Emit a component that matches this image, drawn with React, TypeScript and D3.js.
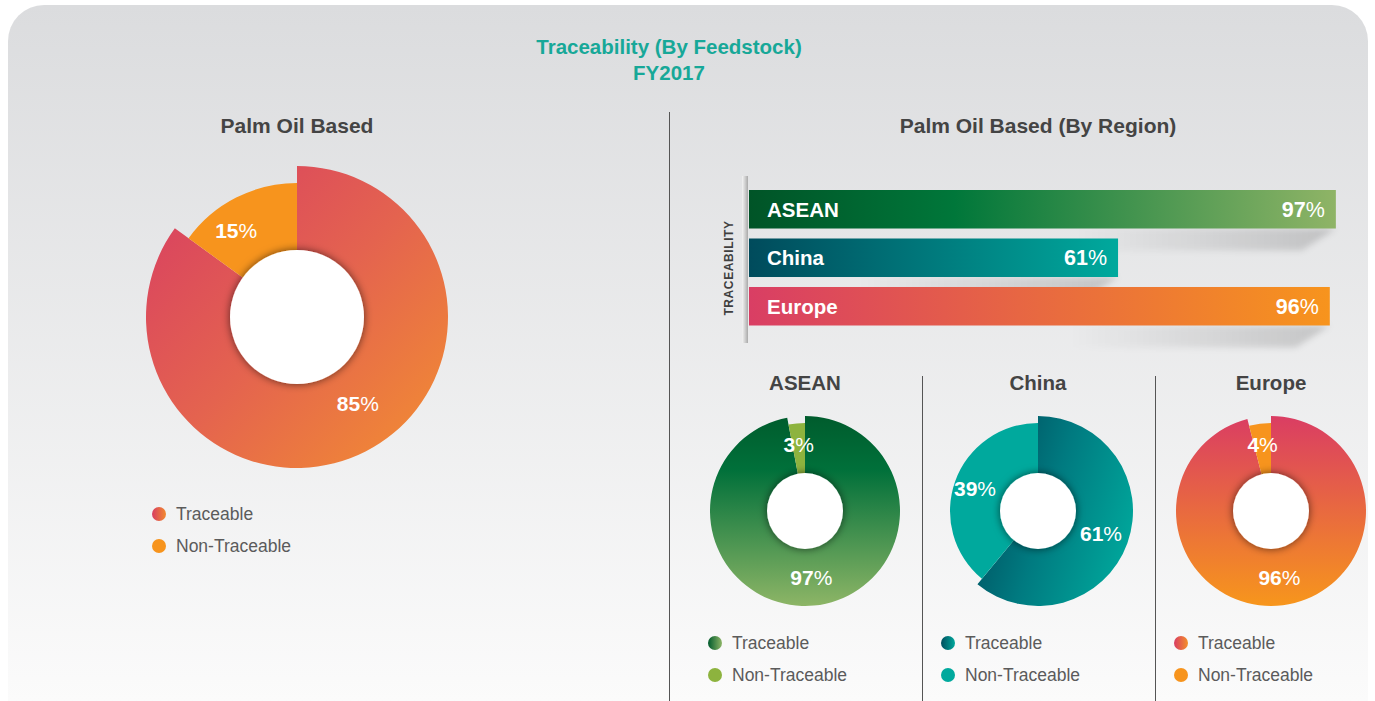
import React from "react";
import * as d3 from "d3";

const legendLabels = ["Traceable", "Non-Traceable"];
const mainValues = [85, 15];
const regions = ["ASEAN", "China", "Europe"];
const regionTraceable = [97, 61, 96];
const regionNonTraceable = [3, 39, 4];

const W = 1375;
const H = 701;
const FONT = "'Liberation Sans', Arial, Helvetica, sans-serif";

type Theme = {
  id: string;
  stops: [number, string][];
  dir: [number, number, number, number];
  non: string;
  legendStops: [number, string][];
};

const mainTheme: Theme = {
  id: "main",
  stops: [[0, "#d73c63"], [0.5, "#e4634f"], [1, "#f39030"]],
  dir: [0, 0, 1, 1],
  non: "#f7941d",
  legendStops: [[0, "#d83d62"], [1, "#f28a2e"]],
};

const regionThemes: Theme[] = [
  {
    id: "asean",
    stops: [[0, "#005c2d"], [0.28, "#00703a"], [1, "#8db566"]],
    dir: [0, 0, 0, 1],
    non: "#8db33e",
    legendStops: [[0, "#005a2c"], [1, "#8db566"]],
  },
  {
    id: "china",
    stops: [[0, "#004e5e"], [0.45, "#007a80"], [1, "#00a89c"]],
    dir: [0, 0.3, 1, 0.7],
    non: "#00a99d",
    legendStops: [[0, "#004e5e"], [1, "#00a89c"]],
  },
  {
    id: "europe",
    stops: [[0, "#da3d63"], [1, "#f7961c"]],
    dir: [0, 0, 0, 1],
    non: "#f7941d",
    legendStops: [[0, "#d93d63"], [1, "#f4902a"]],
  },
];

const barStops: [number, string][][] = [
  [[0, "#005427"], [0.35, "#00773a"], [1, "#8fb466"]],
  [[0, "#004b5c"], [1, "#00a99d"]],
  [[0, "#d93e64"], [1, "#f7941d"]],
];

function Grad({ id, stops, dir }: { id: string; stops: [number, string][]; dir: [number, number, number, number] }) {
  return (
    <linearGradient id={id} x1={dir[0]} y1={dir[1]} x2={dir[2]} y2={dir[3]}>
      {stops.map(([o, c], i) => (
        <stop key={i} offset={o} stopColor={c} />
      ))}
    </linearGradient>
  );
}

function Pct({ x, y, v, size, anchor = "middle" }: { x: number; y: number; v: number; size: number; anchor?: string }) {
  return (
    <text x={x} y={y} textAnchor={anchor as any} fill="#fff" fontFamily={FONT} fontSize={size} dy="0.35em">
      <tspan fontWeight="bold">{v}</tspan>
      <tspan fontWeight="normal">%</tspan>
    </text>
  );
}

function Donut({
  cx, cy, values, rOuter, rNon, rInner, theme, labelR, labelShift = 0,
}: {
  cx: number; cy: number; values: number[]; rOuter: number; rNon: number; rInner: number; theme: Theme; labelR: number; labelShift?: number;
}) {
  const pie = d3.pie<number>().sort(null).value((d) => d);
  const arcs = pie(values);
  const arcGen = d3.arc<d3.PieArcDatum<number>>();
  return (
    <g transform={`translate(${cx},${cy})`}>
      {arcs.map((a, i) => (
        <path
          key={i}
          d={arcGen({ ...a, innerRadius: rInner - 2, outerRadius: i === 0 ? rOuter : rNon } as any) || ""}
          fill={i === 0 ? `url(#g-${theme.id})` : theme.non}
        />
      ))}
      <circle r={rInner} fill="#fff" filter="url(#holeShadow)" />
      {arcs.map((a, i) => {
        const mid = (a.startAngle + a.endAngle) / 2 + labelShift;
        const lx = labelR * Math.sin(mid);
        const ly = -labelR * Math.cos(mid);
        return <Pct key={i} x={lx} y={ly} v={values[i]} size={21} />;
      })}
    </g>
  );
}

function Legend({ x, y, theme }: { x: number; y: number; theme: Theme }) {
  return (
    <g>
      {legendLabels.map((l, i) => (
        <g key={l} transform={`translate(${x},${y + i * 32})`}>
          <circle r={7} fill={i === 0 ? `url(#lg-${theme.id})` : theme.non} />
          <text x={17} dy="0.36em" fontFamily={FONT} fontSize={17.5} fill="#5b5b5b">
            {l}
          </text>
        </g>
      ))}
    </g>
  );
}

export default function App() {
  const x = d3.scaleLinear().domain([0, 100]).range([749, 1354]);
  const y = d3.scaleBand<string>().domain(regions).range([190, 325.5]).paddingInner(0.206).paddingOuter(0);
  const regionCx = d3.scalePoint<string>().domain(regions).range([805, 1271]);
  const allThemes = [mainTheme, ...regionThemes];

  return (
    <svg width={W} height={H} style={{ position: "absolute", left: 0, top: 0, display: "block" }}>
      <defs>
        <linearGradient id="bg" x1={0} y1={5} x2={0} y2={701} gradientUnits="userSpaceOnUse">
          <stop offset={0} stopColor="#dbdcde" />
          <stop offset={1} stopColor="#fbfbfb" />
        </linearGradient>
        {allThemes.map((t) => (
          <Grad key={t.id} id={`g-${t.id}`} stops={t.stops} dir={t.dir} />
        ))}
        {allThemes.map((t) => (
          <Grad key={"l" + t.id} id={`lg-${t.id}`} stops={t.legendStops} dir={[0, 0, 1, 0]} />
        ))}
        {barStops.map((s, i) => (
          <Grad key={"b" + i} id={`bar-${i}`} stops={s} dir={[0, 0, 1, 0]} />
        ))}
        <linearGradient id="shadowGrad" x1={0} y1={0} x2={1} y2={0}>
          <stop offset={0} stopColor="#000" stopOpacity={0} />
          <stop offset={1} stopColor="#000" stopOpacity={0.16} />
        </linearGradient>
        <filter id="holeShadow" x="-30%" y="-30%" width="160%" height="160%">
          <feDropShadow dx={0} dy={0} stdDeviation={4} floodColor="#000" floodOpacity={0.6} />
        </filter>
        <filter id="blur3" x="-20%" y="-50%" width="140%" height="200%">
          <feGaussianBlur stdDeviation={3} />
        </filter>
        <linearGradient id="axisGrad" x1={0} y1={0} x2={1} y2={0}>
          <stop offset={0} stopColor="#f4f4f4" />
          <stop offset={0.6} stopColor="#c9c9c9" />
          <stop offset={1} stopColor="#a9a9a9" />
        </linearGradient>
      </defs>

      <rect x={0} y={0} width={W} height={H} fill="#fff" />
      <rect x={8} y={5} width={1360} height={760} rx={36} fill="url(#bg)" />

      <text x={669} y={47} textAnchor="middle" dy="0.35em" fontFamily={FONT} fontWeight="bold" fontSize={20.5} fill="#17a898">
        Traceability (By Feedstock)
      </text>
      <text x={669} y={73} textAnchor="middle" dy="0.35em" fontFamily={FONT} fontWeight="bold" fontSize={20.5} fill="#17a898">
        FY2017
      </text>

      <line x1={669.5} x2={669.5} y1={112} y2={H} stroke="#555" strokeWidth={1} />

      <text x={297} y={126} textAnchor="middle" dy="0.35em" fontFamily={FONT} fontWeight="bold" fontSize={21} fill="#444">
        Palm Oil Based
      </text>
      <Donut cx={297} cy={317} values={mainValues} rOuter={151} rNon={134} rInner={67} theme={mainTheme} labelR={106} labelShift={-0.14} />
      <Legend x={159} y={514} theme={mainTheme} />

      <text x={1038} y={126} textAnchor="middle" dy="0.35em" fontFamily={FONT} fontWeight="bold" fontSize={21} fill="#444">
        Palm Oil Based (By Region)
      </text>

      {regions.map((r, i) => {
        const end = x(regionTraceable[i]);
        const bottom = (y(r) as number) + y.bandwidth();
        const pts = [
          [end - 260, bottom],
          [end, bottom],
          [end - 34, bottom + 22],
          [end - 260, bottom + 22],
        ];
        return (
          <polygon key={"s" + r} points={pts.map((p) => p.join(",")).join(" ")} fill="url(#shadowGrad)" filter="url(#blur3)" />
        );
      })}

      <rect x={742} y={176} width={6} height={167} fill="url(#axisGrad)" />
      <text
        transform="translate(733,268) rotate(-90)"
        textAnchor="middle"
        fontFamily={FONT}
        fontWeight="bold"
        fontSize={12}
        letterSpacing={0.6}
        fill="#3f3f3f"
      >
        TRACEABILITY
      </text>

      {regions.map((r, i) => {
        const y0 = y(r) as number;
        const bw = y.bandwidth();
        const end = x(regionTraceable[i]);
        return (
          <g key={"b" + r}>
            <rect x={x(0)} y={y0} width={end - x(0)} height={bw} fill={`url(#bar-${i})`} />
            <text x={x(0) + 18} y={y0 + bw / 2} dy="0.36em" fontFamily={FONT} fontWeight="bold" fontSize={20.5} fill="#fff">
              {r}
            </text>
            <Pct x={end - 11} y={y0 + bw / 2} v={regionTraceable[i]} size={21.5} anchor="end" />
          </g>
        );
      })}

      <line x1={922.5} x2={922.5} y1={376} y2={H} stroke="#555" strokeWidth={1} />
      <line x1={1155.5} x2={1155.5} y1={376} y2={H} stroke="#555" strokeWidth={1} />
      {regions.map((r, i) => {
        const cx = regionCx(r) as number;
        return (
          <g key={"d" + r}>
            <text x={cx} y={383} textAnchor="middle" dy="0.35em" fontFamily={FONT} fontWeight="bold" fontSize={20.5} fill="#444">
              {r}
            </text>
            <Donut
              cx={cx}
              cy={511}
              values={[regionTraceable[i], regionNonTraceable[i]]}
              rOuter={95}
              rNon={88}
              rInner={38}
              theme={regionThemes[i]}
              labelR={67}
            />
            <Legend x={cx - 90} y={643} theme={regionThemes[i]} />
          </g>
        );
      })}
    </svg>
  );
}
